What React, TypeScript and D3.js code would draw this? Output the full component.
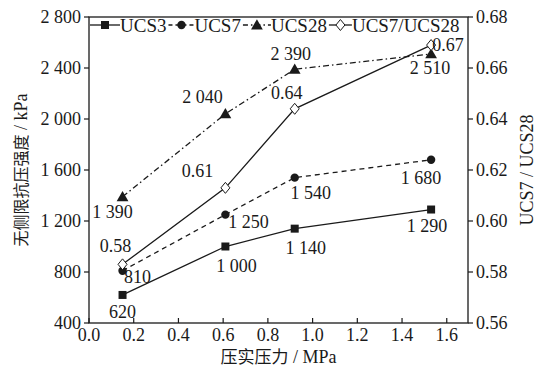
import { useEffect, useRef } from "react";
import * as d3 from "d3";

// compaction pressure (MPa)
const pressures = [0.15, 0.61, 0.92, 1.53];
const ucs3 = [620, 1000, 1140, 1290];
const ucs7 = [810, 1250, 1540, 1680];
const ucs28 = [1390, 2040, 2390, 2510];
const ratio = [0.583, 0.613, 0.644, 0.669];
const ratioLabels = ["0.58", "0.61", "0.64", "0.67"];

const leftTicks = [400, 800, 1200, 1600, 2000, 2400, 2800];
const rightTicks = [0.56, 0.58, 0.6, 0.62, 0.64, 0.66, 0.68];
const xTicks = [0, 0.2, 0.4, 0.6, 0.8, 1.0, 1.2, 1.4, 1.6];

// label offsets (dx, dy) relative to each point
const ucs3Off = [[0, 17], [11, 19], [11, 19], [-4, 16]];
const ucs7Off = [[15, 6], [23, 7], [16, 15], [-10, 18]];
const ucs28Off = [[-10, 15], [-23, -17], [-4, -16], [-1, 14]];
const ratioOff = [[-7, -19], [-28, -17], [-8, -16], [17, 0]];

const SERIF = "Liberation Serif, Times New Roman, serif";
const CJK = "Noto Sans CJK SC, sans-serif";

const fmt = (v: number) => {
  const s = String(v);
  return s.length > 3 ? s.slice(0, s.length - 3) + " " + s.slice(-3) : s;
};

const App: React.FC = () => {
  const svgRef = useRef<SVGSVGElement>(null);

  useEffect(() => {
    const margin = { top: 17, right: 69, bottom: 46, left: 89 };
    const W = 537, H = 369;
    const width = W - margin.left - margin.right;
    const height = H - margin.top - margin.bottom;
    const ink = "#1a1a1a";

    const root = d3.select(svgRef.current);
    root.selectAll("*").remove();
    root.append("rect").attr("width", W).attr("height", H).attr("fill", "#fff");

    const g = root.append("g").attr("transform", `translate(${margin.left},${margin.top})`);

    const x = d3.scaleLinear().domain([0, 1.695]).range([0, width]);
    const yL = d3.scaleLinear().domain([400, 2800]).range([height, 0]);
    const yR = d3.scaleLinear().domain([0.56, 0.68]).range([height, 0]);

    // frame
    g.append("rect")
      .attr("width", width).attr("height", height)
      .attr("fill", "none").attr("stroke", ink).attr("stroke-width", 1.3);

    // left axis (ticks outward)
    leftTicks.forEach((t) => {
      g.append("line").attr("x1", -5).attr("x2", 0).attr("y1", yL(t)).attr("y2", yL(t))
        .attr("stroke", ink).attr("stroke-width", 1.2);
      g.append("text").attr("x", -8).attr("y", yL(t)).attr("dy", "0.35em")
        .attr("text-anchor", "end").style("font-family", SERIF).attr("font-size", 18)
        .attr("fill", ink).text(fmt(t));
    });
    // right axis (ticks outward)
    rightTicks.forEach((t) => {
      g.append("line").attr("x1", width).attr("x2", width + 5).attr("y1", yR(t)).attr("y2", yR(t))
        .attr("stroke", ink).attr("stroke-width", 1.2);
      g.append("text").attr("x", width + 8).attr("y", yR(t)).attr("dy", "0.35em")
        .attr("text-anchor", "start").style("font-family", SERIF).attr("font-size", 18)
        .attr("fill", ink).text(t.toFixed(2));
    });
    // bottom axis (ticks inward)
    xTicks.forEach((t) => {
      g.append("line").attr("x1", x(t)).attr("x2", x(t)).attr("y1", height).attr("y2", height - 5)
        .attr("stroke", ink).attr("stroke-width", 1.2);
      g.append("text").attr("x", x(t)).attr("y", height + 18)
        .attr("text-anchor", "middle").style("font-family", SERIF).attr("font-size", 18)
        .attr("fill", ink).text(t.toFixed(1));
    });

    // axis titles
    const xt = root.append("text").attr("x", margin.left + width / 2).attr("y", H - 6)
      .attr("text-anchor", "middle").attr("fill", ink).attr("font-size", 17);
    xt.append("tspan").style("font-family", CJK).text("压实压力");
    xt.append("tspan").style("font-family", SERIF).attr("font-size", 18).text(" / MPa");

    const yt = root.append("text")
      .attr("transform", `translate(27,${margin.top + height / 2}) rotate(-90)`)
      .attr("text-anchor", "middle").attr("fill", ink).attr("font-size", 16);
    yt.append("tspan").style("font-family", CJK).text("无侧限抗压强度");
    yt.append("tspan").style("font-family", SERIF).attr("font-size", 18).text(" / kPa");

    root.append("text")
      .attr("transform", `translate(533,${margin.top + height / 2}) rotate(-90)`)
      .attr("text-anchor", "middle").style("font-family", SERIF).attr("font-size", 18)
      .attr("fill", ink).text("UCS7 / UCS28");

    // series
    const series = [
      { name: "UCS3", vals: ucs3, y: yL, dash: "", marker: "square", off: ucs3Off, labels: ucs3.map(fmt), sw: 30 },
      { name: "UCS7", vals: ucs7, y: yL, dash: "5,4", marker: "circle", off: ucs7Off, labels: ucs7.map(fmt), sw: 26 },
      { name: "UCS28", vals: ucs28, y: yL, dash: "6,3,1.5,3", marker: "triangle", off: ucs28Off, labels: ucs28.map(fmt), sw: 28 },
      { name: "UCS7/UCS28", vals: ratio, y: yR, dash: "", marker: "diamond", off: ratioOff, labels: ratioLabels, sw: 23 },
    ];

    const drawMarker = (sel: d3.Selection<SVGGElement, unknown, null, undefined>, kind: string, cx: number, cy: number) => {
      if (kind === "square") {
        sel.append("rect").attr("x", cx - 4).attr("y", cy - 4).attr("width", 8).attr("height", 8).attr("fill", ink);
      } else if (kind === "circle") {
        sel.append("circle").attr("cx", cx).attr("cy", cy).attr("r", 4.2).attr("fill", ink);
      } else if (kind === "triangle") {
        sel.append("path").attr("d", d3.symbol(d3.symbolTriangle, 60)()!)
          .attr("transform", `translate(${cx},${cy + 1})`).attr("fill", ink);
      } else {
        sel.append("path").attr("d", `M${cx},${cy - 5.5}L${cx + 4.5},${cy}L${cx},${cy + 5.5}L${cx - 4.5},${cy}Z`)
          .attr("fill", "#fff").attr("stroke", ink).attr("stroke-width", 1);
      }
    };

    series.forEach((s) => {
      const line = d3.line<number>().x((_, i) => x(pressures[i])).y((v) => s.y(v));
      g.append("path").attr("d", line(s.vals)!).attr("fill", "none")
        .attr("stroke", ink).attr("stroke-width", 1.3).attr("stroke-dasharray", s.dash);
      const mg = g.append("g");
      s.vals.forEach((v, i) => {
        drawMarker(mg, s.marker, x(pressures[i]), s.y(v));
        g.append("text")
          .attr("x", x(pressures[i]) + s.off[i][0]).attr("y", s.y(v) + s.off[i][1])
          .attr("dy", "0.35em").attr("text-anchor", "middle")
          .style("font-family", SERIF).attr("font-size", 18).attr("fill", ink)
          .text(s.labels[i]);
      });
    });

    // legend
    const lg = root.append("g");
    let lx = margin.left + 1;
    const ly = 25;
    series.forEach((s) => {
      const sw = s.sw;
      lg.append("line").attr("x1", lx).attr("x2", lx + sw).attr("y1", ly).attr("y2", ly)
        .attr("stroke", ink).attr("stroke-width", 1.3)
        .attr("stroke-dasharray", s.dash ? (s.marker === "triangle" ? "5,3,1.5,3" : "4,3") : "");
      const mg = lg.append("g");
      drawMarker(mg, s.marker, lx + sw / 2, ly);
      const t = lg.append("text").attr("x", lx + sw).attr("y", ly).attr("dy", "0.35em")
        .style("font-family", SERIF).attr("font-size", 19).attr("fill", ink).text(s.name);
      const tw = (t.node() as SVGTextElement).getComputedTextLength();
      lx += sw + tw + 2;
    });
  }, []);

  return (
    <svg ref={svgRef} width={537} height={369}
      style={{ position: "absolute", left: 0, top: 0, display: "block" }} />
  );
};

export default App;
